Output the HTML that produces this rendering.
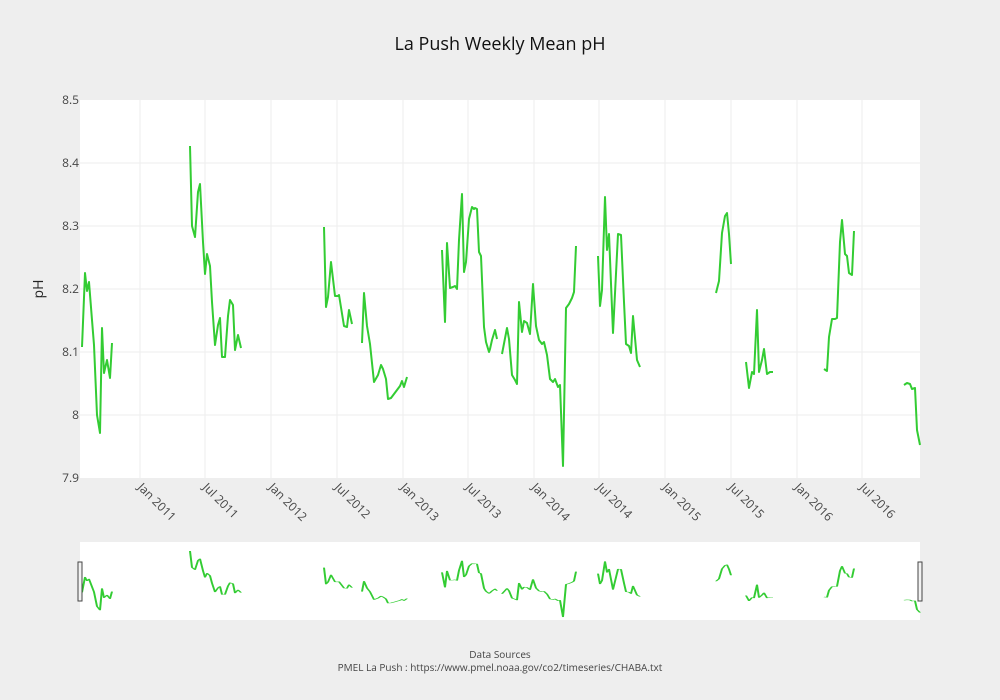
<!DOCTYPE html>
<html><head><meta charset="utf-8"><style>
body{margin:0;background:#eeeeee;}
svg{display:block;font-family:"Open Sans","Liberation Sans",sans-serif;}
</style></head><body>
<svg width="1000" height="700" xmlns="http://www.w3.org/2000/svg">
<rect width="1000" height="700" fill="#eeeeee"/>
<rect x="80" y="100" width="840" height="378" fill="#fff"/>
<g stroke="#eeeeee" stroke-width="1">
<line x1="80" x2="920" y1="163" y2="163"/><line x1="80" x2="920" y1="226" y2="226"/><line x1="80" x2="920" y1="289" y2="289"/><line x1="80" x2="920" y1="352" y2="352"/><line x1="80" x2="920" y1="415" y2="415"/>
<line x1="140" x2="140" y1="100" y2="478"/><line x1="205" x2="205" y1="100" y2="478"/><line x1="271" x2="271" y1="100" y2="478"/><line x1="337" x2="337" y1="100" y2="478"/><line x1="403" x2="403" y1="100" y2="478"/><line x1="468" x2="468" y1="100" y2="478"/><line x1="534" x2="534" y1="100" y2="478"/><line x1="599" x2="599" y1="100" y2="478"/><line x1="665" x2="665" y1="100" y2="478"/><line x1="731" x2="731" y1="100" y2="478"/><line x1="797" x2="797" y1="100" y2="478"/><line x1="862" x2="862" y1="100" y2="478"/>
</g>
<text x="500" y="50" text-anchor="middle" font-size="18" fill="#111">La Push Weekly Mean pH</text>
<g font-size="12" fill="#444" text-anchor="end">
<text x="79" y="104">8.5</text><text x="79" y="167">8.4</text><text x="79" y="230">8.3</text><text x="79" y="293">8.2</text><text x="79" y="356">8.1</text><text x="79" y="419">8</text><text x="79" y="482">7.9</text>
</g>
<text transform="translate(43,289) rotate(-90)" text-anchor="middle" font-size="14" fill="#222">pH</text>
<g font-size="12" fill="#444">
<text transform="translate(137,488) rotate(45)">Jan 2011</text>
<text transform="translate(202,488) rotate(45)">Jul 2011</text>
<text transform="translate(268,488) rotate(45)">Jan 2012</text>
<text transform="translate(334,488) rotate(45)">Jul 2012</text>
<text transform="translate(400,488) rotate(45)">Jan 2013</text>
<text transform="translate(465,488) rotate(45)">Jul 2013</text>
<text transform="translate(531,488) rotate(45)">Jan 2014</text>
<text transform="translate(596,488) rotate(45)">Jul 2014</text>
<text transform="translate(662,488) rotate(45)">Jan 2015</text>
<text transform="translate(728,488) rotate(45)">Jul 2015</text>
<text transform="translate(794,488) rotate(45)">Jan 2016</text>
<text transform="translate(859,488) rotate(45)">Jul 2016</text>
</g>
<defs><g id="d" fill="none" stroke="#33cc33" stroke-width="2" stroke-linejoin="round">
<polyline points="82,347 85,273 87,291 89,282 92,320 94,345 97,415 100,433 102,328 104,373 107,360 110,378 112,343"/>
<polyline points="190,146 192,226 195,237 198,192 200,184 203,242 205,274 207,254 210,266 212,302 215,345 218,325 220,318 222,357 225,357 228,316 230,300 233,305 235,350 238,335 241,348"/>
<polyline points="324,227 326,307 328,297 331,262 335,296 338,296 339,295 344,326 347,327 349,310 352,324"/>
<polyline points="362,343 364,293 367,326 370,344 374,382 378,375 381,365 383,369 386,379 388,399 391,398 394,394 397,390 400,386 402,381 404,387 407,377"/>
<polyline points="442,250 445,322 447,243 450,288 453,287 455,286 457,289 459,240 462,194 464,272 466,262 469,219 472,207 474,209 475,208 477,209 479,252 481,256 484,327 486,342 489,352 490,349 492,340 495,330 497,339"/>
<polyline points="502,354 507,328 509,339 512,375 515,380 517,384 519,302 522,332 524,321 527,323 530,334 533,284 536,326 539,340 542,344 544,342 547,355 550,379 553,382 555,379 558,387 560,385 563,466 566,308 569,304 572,298 574,292 576,246"/>
<polyline points="598,256 600,306 602,290 605,197 607,250 609,234 613,333 618,234 621,235 624,302 626,344 629,346 631,353 633,316 637,360 640,367"/>
<polyline points="716,293 719,281 722,233 725,216 727,213 729,234 731,264"/>
<polyline points="746,362 749,388 752,372 754,374 757,310 759,372 762,360 764,349 767,374 770,372 773,372"/>
<polyline points="824,369 827,371 829,337 832,319 835,319 837,318 840,242 842,220 845,254 847,256 849,273 852,275 854,231"/>
<polyline points="904,385 907,383 910,384 912,389 915,388 917,430 920,445"/>
</g></defs>
<use href="#d"/>
<rect x="80" y="542" width="840" height="78" fill="#fff"/>
<g transform="matrix(1,0,0,0.206,0,520.9)"><use href="#d" style="vector-effect:non-scaling-stroke"/></g>
<rect x="78" y="562" width="4" height="39" fill="#f2f2f2" stroke="#444" stroke-width="1"/>
<rect x="918" y="562" width="4" height="39" fill="#f2f2f2" stroke="#444" stroke-width="1"/>
<text x="500" y="658" text-anchor="middle" font-size="10" fill="#444">Data Sources</text>
<text x="500" y="671" text-anchor="middle" font-size="10" fill="#444">PMEL La Push : https://www.pmel.noaa.gov/co2/timeseries/CHABA.txt</text>
</svg>
</body></html>
